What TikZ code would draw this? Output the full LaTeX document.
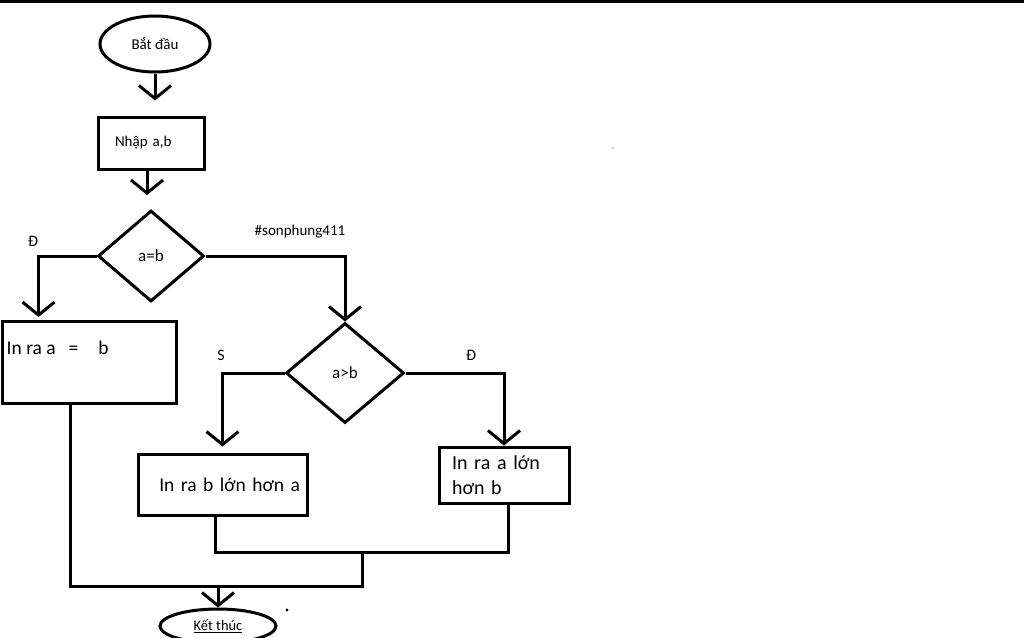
\documentclass[tikz,border=0pt]{standalone}
\usepackage{fontspec}
\setmainfont{Carlito}
\usetikzlibrary{arrows.meta,positioning,shapes.geometric}
\tikzset{
  line/.style={line width=3pt, draw=black},
  arr/.style={line, -{Straight Barb[length=13pt,width=32pt]}},
  box/.style={rectangle, line, inner sep=0pt},
  term/.style={ellipse, line, inner sep=0pt},
  test/.style={diamond, line, inner sep=0pt, font=\fontsize{17}{20}\selectfont},
  lab/.style={font=\fontsize{16}{19}\selectfont}
}

\begin{document}
\begin{tikzpicture}[x=1pt,y=-1pt]
\useasboundingbox (0,0) rectangle (1024,637);
\clip (0,0) rectangle (1024,637);
\fill (0,0) rectangle (1024,3);
% nodes
\node[term, minimum width=110pt, minimum height=56pt, font=\fontsize{15}{18}\selectfont] (start) at (155,44) {Bắt đầu};
\node[box, minimum width=106pt, minimum height=52pt, text width=72pt, align=left, font=\fontsize{15}{18}\selectfont] (input) at (151,143) {Nhập a,b};
\node[test, minimum width=106pt, minimum height=91pt] (d1) at (151,256) {a=b};
\node[box, minimum width=174pt, minimum height=82pt,
  label={[anchor=north west, inner sep=0pt, xshift=6pt, yshift=-21pt, font=\fontsize{19.5}{23}\selectfont]north west:In ra a\hspace{13pt}=\hspace{20pt}b}] (eq) at (89,362.5) {};
\node[test, minimum width=118pt, minimum height=100pt] (d2) at (345,373) {a>b};
\node[box, minimum width=169pt, minimum height=61pt, text width=155pt, align=right, font=\fontsize{19.5}{23}\selectfont] (outb) at (222.5,484.5) {In ra b lớn hơn a};
\node[box, minimum width=130pt, minimum height=56pt, text width=104pt, align=left, font=\fontsize{20}{25}\selectfont] (outa) at (504,475) {In ra a lớn\\hơn b};
\node[term, minimum width=116pt, minimum height=34pt, font=\fontsize{14.5}{16}\selectfont] (end) at (218,626) {\underline{Kết thúc}};
% labels
\node[lab] (yes1) at (33,241) {Đ};
\node[lab, font=\fontsize{15}{18}\selectfont] (tag) at (300,232) {\#sonphung411};
\node[lab] (no2) at (221,355) {S};
\node[lab] (yes2) at (471,355) {Đ};
% joins
\coordinate (m1) at (362,552);
\coordinate (j) at (362,586);
% connectors
\draw[arr, shorten >=15pt] (start.south) -- (start.south |- input.north);
\draw[arr, shorten >=14pt] ([xshift=-4pt]input.south) -- ([xshift=-4pt]input.south |- d1.north);
\draw[arr, shorten >=3pt] (d1.west) -| ([xshift=38pt]eq.north west);
\draw[arr] (d1.east) -| (d2.north);
\draw[arr, shorten >=6pt] (d2.west) -| (outb.north);
\draw[arr] (d2.east) -| (outa.north);
\draw[line] ([xshift=-7pt]outb.south) |- (m1) -| ([xshift=4pt]outa.south);
\draw[line] ([xshift=-19pt]eq.south) |- (j) -- (m1);
\draw[arr] (end.north |- j) -- (end.north);
% stray marks
\fill (287,610) circle (1.6pt);
\fill[black!40] (613,148) circle (0.8pt);
\end{tikzpicture}
\end{document}
